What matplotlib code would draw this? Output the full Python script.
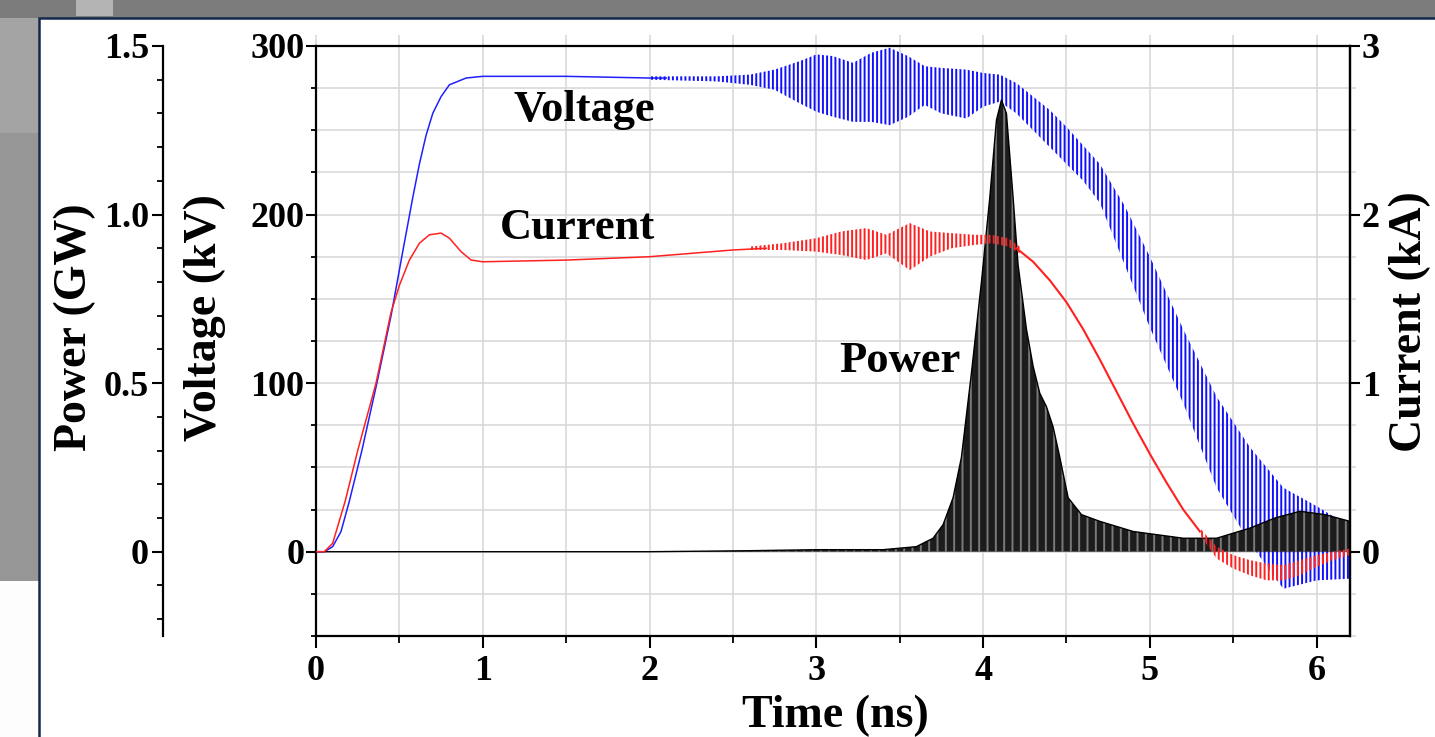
import numpy as np
import matplotlib
matplotlib.use("Agg")
import matplotlib.pyplot as plt
from matplotlib.patches import Rectangle
from matplotlib.ticker import MultipleLocator, FixedLocator

plt.rcParams['font.family'] = ['Liberation Serif', 'DejaVu Serif']
plt.rcParams['font.weight'] = 'bold'
plt.rcParams['hatch.linewidth'] = 1.4

# Voltage (kV): smooth rise / plateau, then oscillating envelope
t_v_rise = [0, 0.05, 0.1, 0.15, 0.2, 0.275, 0.365, 0.45, 0.52, 0.58, 0.62, 0.66, 0.7,
            0.75, 0.8, 0.9, 1.0, 1.5, 2.0, 2.1]
v_rise = [0, 0, 3, 12, 30, 60, 100, 140, 178, 210, 230, 247, 260,
          270, 277, 281, 282, 282, 281, 281]

t_v_osc = [2.0, 2.4, 2.6, 2.75, 2.9, 3.0, 3.1, 3.22, 3.33, 3.44, 3.55, 3.65, 3.75, 3.9,
           4.0, 4.1, 4.2, 4.3, 4.4, 4.5, 4.6, 4.7, 4.85, 5.0, 5.2, 5.4, 5.6, 5.8, 6.0, 6.2]
v_osc_hi = [282, 282, 283, 286, 291, 295, 294, 290, 296, 299, 294, 288, 287, 286,
            284, 283, 278, 270, 262, 252, 241, 230, 205, 175, 132, 92, 62, 38, 27, 15]
v_osc_lo = [280, 279, 277, 274, 266, 261, 258, 255, 255, 253, 258, 265, 260, 257,
            264, 267, 260, 250, 240, 230, 220, 207, 170, 133, 88, 38, 5, -22, -17, -16]

# Current (kA)
t_i_rise = [0, 0.05, 0.1, 0.175, 0.25, 0.36, 0.45, 0.5, 0.56, 0.62, 0.68, 0.75, 0.8, 0.87,
            0.93, 1.0, 1.5, 2.0, 2.5, 2.7]
i_rise = [0, 0, 0.05, 0.3, 0.6, 1.0, 1.42, 1.58, 1.73, 1.83, 1.88, 1.89, 1.86, 1.78,
          1.73, 1.72, 1.73, 1.75, 1.79, 1.80]

t_i_osc = [2.6, 2.8, 3.0, 3.15, 3.3, 3.42, 3.56, 3.68, 3.81, 3.95, 4.05, 4.15, 4.22]
i_osc_hi = [1.81, 1.83, 1.86, 1.90, 1.92, 1.88, 1.95, 1.90, 1.89, 1.88, 1.88, 1.86, 1.81]
i_osc_lo = [1.79, 1.79, 1.78, 1.76, 1.73, 1.77, 1.67, 1.75, 1.80, 1.82, 1.83, 1.81, 1.77]

t_i_fall = [4.2, 4.3, 4.4, 4.5, 4.6, 4.7, 4.8, 4.9, 5.0, 5.1, 5.2, 5.3]
i_fall = [1.80, 1.72, 1.61, 1.48, 1.32, 1.14, 0.95, 0.76, 0.58, 0.41, 0.25, 0.12]

t_i_tail = [5.3, 5.4, 5.5, 5.6, 5.7, 5.8, 5.9, 6.0, 6.1, 6.2]
i_tail_hi = [0.14, 0.03, -0.02, -0.05, -0.07, -0.08, -0.05, -0.02, 0.0, 0.02]
i_tail_lo = [0.10, -0.04, -0.10, -0.14, -0.17, -0.17, -0.14, -0.09, -0.05, -0.02]

# Power (GW) envelope
t_p = [0, 2.0, 2.6, 3.0, 3.4, 3.6, 3.7, 3.76, 3.82, 3.87, 3.93, 3.99, 4.04, 4.08, 4.11,
       4.14, 4.18, 4.21, 4.26, 4.30, 4.34, 4.38, 4.42, 4.46, 4.51, 4.59, 4.7, 4.9, 5.2, 5.4,
       5.6, 5.75, 5.9, 6.05, 6.2]
p_hi = [0, 0, 0.003, 0.006, 0.006, 0.015, 0.04, 0.08, 0.16, 0.28, 0.53, 0.80, 1.05, 1.28, 1.34,
        1.30, 1.05, 0.85, 0.66, 0.55, 0.47, 0.43, 0.37, 0.28, 0.16, 0.11, 0.09, 0.06, 0.04, 0.04,
        0.07, 0.10, 0.12, 0.11, 0.09]

W, H = 1435, 737
fig = plt.figure(figsize=(W / 100, H / 100), dpi=100)
fig.patch.set_facecolor('#7c7c7c')


def px_rect(x, y, w, h, **kw):
    fig.add_artist(Rectangle((x / W, 1 - (y + h) / H), w / W, h / H,
                             transform=fig.transFigure, zorder=-10, **kw))


# desktop behind the plot window
px_rect(0, 18, 40, 115, facecolor='#a4a4a4', edgecolor='none')
px_rect(0, 133, 40, 448, facecolor='#969696', edgecolor='none')
px_rect(0, 581, 40, 160, facecolor='#fdfdfd', edgecolor='none')
px_rect(76, 0, 37, 16, facecolor='#b4b4b4', edgecolor='none')
px_rect(39, 18, 1420, 740, facecolor='white', edgecolor='#13294b', linewidth=1.8)

left, right, bottom, top = 316 / W, 1350 / W, 1 - 636 / H, 1 - 46 / H
ax = fig.add_axes([left, bottom, right - left, top - bottom])
ax.set_facecolor('none')
ax_p = ax.twinx()
ax_i = ax.twinx()

ax.set_xlim(0, 6.2)
ax.set_ylim(-50, 300)
ax_i.set_ylim(-0.5, 3)
ax_p.set_ylim(-0.25, 1.5)

grid_c = '#d6d6d6'
ax.xaxis.set_major_locator(MultipleLocator(1))
ax.xaxis.set_minor_locator(MultipleLocator(0.5))
ax.yaxis.set_major_locator(MultipleLocator(100))
ax.yaxis.set_minor_locator(MultipleLocator(25))
ax.grid(True, which='both', color=grid_c, linewidth=1.1, zorder=0)
ax.set_axisbelow(True)

# voltage
ax.plot(t_v_rise, v_rise, color='#2020ff', lw=1.1, zorder=2)
ax.fill_between(t_v_osc, v_osc_lo, v_osc_hi, facecolor='none', edgecolor='#1010ff',
                hatch='||||', linewidth=0, zorder=2)

# power
ax_p.fill_between(t_p, 0, p_hi, facecolor='#1c1c1c', edgecolor='#7a7a7a',
                  hatch='||', linewidth=0, zorder=2)
ax_p.plot(t_p, p_hi, color='black', lw=1.0, zorder=3)

# current
ax_i.plot(t_i_rise, i_rise, color='#ff2020', lw=1.1, zorder=2)
ax_i.fill_between(t_i_osc, i_osc_lo, i_osc_hi, facecolor='none', edgecolor='#ff2020',
                  hatch='||||', linewidth=0, zorder=2)
ax_i.plot(t_i_fall, i_fall, color='#ff2020', lw=1.5, zorder=2)
ax_i.fill_between(t_i_tail, i_tail_lo, i_tail_hi, facecolor='none', edgecolor='#ff2020',
                  hatch='||||', linewidth=0, zorder=2)

tick_fs = 26
lab_fs = 33

for s in ax.spines.values():
    s.set_linewidth(1.6)
ax.tick_params(axis='both', which='major', direction='out', width=1.5, labelsize=tick_fs)
ax.tick_params(axis='y', which='major', length=7.5, pad=1)
ax.tick_params(axis='y', which='minor', direction='out', length=3.8, width=1.3)
ax.tick_params(axis='x', which='major', length=8.5, pad=5)
ax.tick_params(axis='x', which='minor', direction='out', length=5, width=1.3)
ax.set_xticks(range(7))
ax.set_xticklabels([str(i) for i in range(7)])
ax.set_yticks([0, 100, 200, 300])
ax.set_yticklabels(['0', '100', '200', '300'])

# faint grid stubs above the frame
top_ax = ax.secondary_xaxis('top')
top_ax.set_xticks(np.arange(0, 6.5, 0.5))
top_ax.tick_params(direction='out', length=8, width=1.1, color=grid_c, labeltop=False)
top_ax.spines['top'].set_visible(False)

# current axis on the right
for name, s in ax_i.spines.items():
    s.set_visible(name == 'right')
ax_i.spines['right'].set_linewidth(1.6)
ax_i.yaxis.set_major_locator(FixedLocator([0, 1, 2, 3]))
ax_i.yaxis.set_minor_locator(MultipleLocator(0.25))
ax_i.set_yticklabels(['0', '1', '2', '3'])
ax_i.tick_params(axis='y', which='major', direction='out', length=7.5, width=1.5,
                 labelsize=tick_fs, pad=1)
ax_i.tick_params(axis='y', which='minor', direction='out', length=4.5, width=1.1, color=grid_c)

# power axis offset to the left
for name, s in ax_p.spines.items():
    s.set_visible(name == 'left')
ax_p.spines['left'].set_position(('axes', (163 - 316) / (1350 - 316)))
ax_p.spines['left'].set_linewidth(1.6)
ax_p.yaxis.set_ticks_position('left')
ax_p.yaxis.set_label_position('left')
ax_p.yaxis.set_major_locator(FixedLocator([0, 0.5, 1.0, 1.5]))
ax_p.yaxis.set_minor_locator(MultipleLocator(0.1))
ax_p.set_yticklabels(['0', '0.5', '1.0', '1.5'])
ax_p.tick_params(axis='y', which='major', direction='out', length=8, width=1.5,
                 labelsize=tick_fs, pad=2)
ax_p.tick_params(axis='y', which='minor', direction='out', length=4.3, width=1.3)

# curve names
ax.text(1.61, 262, 'Voltage', fontsize=32, ha='center', va='center', zorder=5)
ax.text(1.57, 192, 'Current', fontsize=32, ha='center', va='center', zorder=5)
ax.text(3.5, 113, 'Power', fontsize=32, ha='center', va='center', zorder=5)

# axis titles
fig.text(75 / W, 1 - 327 / H, 'Power (GW)', rotation=90, fontsize=lab_fs,
         ha='center', va='center')
fig.text(205 / W, 1 - 318 / H, 'Voltage (kV)', rotation=90, fontsize=lab_fs,
         ha='center', va='center')
fig.text(1410 / W, 1 - 322 / H, 'Current (kA)', rotation=90, fontsize=lab_fs,
         ha='center', va='center')
fig.text(835 / W, 1 - 716 / H, 'Time (ns)', fontsize=lab_fs, ha='center', va='center')

fig.savefig('out.png', dpi=100, facecolor=fig.get_facecolor())
